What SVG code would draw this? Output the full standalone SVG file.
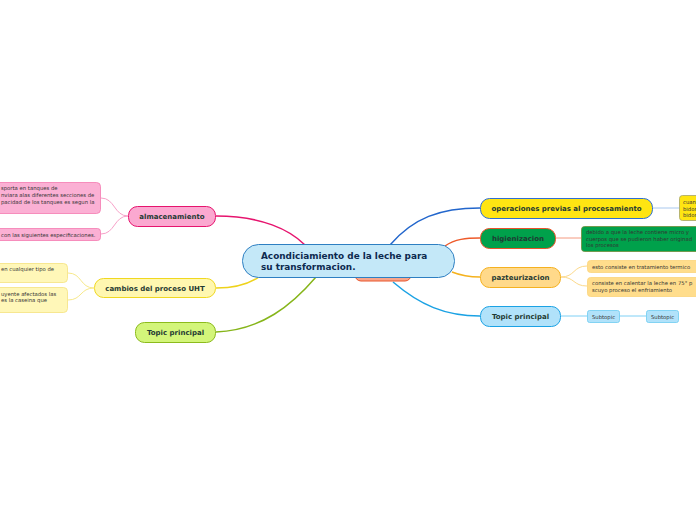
<svg xmlns="http://www.w3.org/2000/svg" width="696" height="520" viewBox="0 0 696 520">
<style>
text{font-family:"DejaVu Sans",Verdana,sans-serif;}
.main{font-size:8.9px;font-weight:bold;fill:#0d2a4f;}
.t{font-size:7px;font-weight:bold;fill:#1f3a33;}
.s{font-size:5.3px;fill:#333;}
.c{fill:none;stroke-width:1.5;}
.cc{fill:none;stroke-width:1;}
</style>
<rect width="696" height="520" fill="#fff"/>
<g id="connectors">
<path class="c" stroke="#e6146e" d="M216,216 C262,216 290,230 305,245"/>
<path class="c" stroke="#2266cc" d="M390,245 C413,218 440,208 480,208"/>
<path class="c" stroke="#ee5a2a" d="M445,246 C455,239 466,238 480,238"/>
<path class="c" stroke="#f5b21e" d="M452,272 C462,276 470,277 480,277"/>
<path class="c" stroke="#1ba2e4" d="M393,282 C420,305 445,316 480,316"/>
<path class="c" stroke="#eed21a" d="M216,288 C236,288 250,283 259,277"/>
<path class="c" stroke="#86b51a" d="M216,332 C262,330 292,305 316,277"/>
<path class="cc" stroke="#a9c8ee" stroke-width="1.5" d="M653,208 L679,208"/>
<path class="cc" stroke="#f49a80" d="M556,238 L581,238"/>
<path class="cc" stroke="#fcd98a" d="M561,277 C575,277 573,266 587,266 M561,277 C575,277 573,286 587,286"/>
<path class="cc" stroke="#7fd0f5" d="M561,316 L587,316 M619,316 L646,316"/>
<path class="cc" stroke="#f7a0c8" d="M128,216 C114,216 115,198 101,198 M128,216 C114,216 115,234 101,234"/>
<path class="cc" stroke="#f7e98a" d="M94,288 C80,288 82,273 68,273 M94,288 C80,288 82,300 68,300"/>
</g>
<g id="hidden-node">
<rect x="355" y="262" width="56" height="19" rx="6" fill="#f9a58a" stroke="#e8542a" stroke-width="1"/>
</g>
<g id="central">
<rect x="242.5" y="244.5" width="212" height="33" rx="16" fill="#c4e8f8" stroke="#2e7fc2" stroke-width="1"/>
<text class="main" x="261" y="259">Acondiciamiento de la leche para</text>
<text class="main" x="261" y="270">su transformacion.</text>
</g>
<g id="operaciones">
<rect x="480.5" y="198.5" width="172" height="20" rx="9" fill="#ffe512" stroke="#2f6fd0" stroke-width="1"/>
<text class="t" x="566.5" y="211" text-anchor="middle">operaciones previas al procesamiento</text>
</g>
<g id="operaciones-sub">
<rect x="679.5" y="195.5" width="30" height="25" rx="3" fill="#ffe512" stroke="#a5a36a" stroke-width="0.8"/>
<text class="s" x="683" y="204">cuan</text>
<text class="s" x="683" y="210.5">bidor</text>
<text class="s" x="683" y="217">bidor</text>
</g>
<g id="higienizacion">
<rect x="480.5" y="228.5" width="75" height="20" rx="9" fill="#00a14b" stroke="#e8542a" stroke-width="1"/>
<text class="t" x="518" y="241" text-anchor="middle">higienizacion</text>
</g>
<g id="higienizacion-sub">
<rect x="581.5" y="226.5" width="130" height="25" rx="3" fill="#00a14b" stroke="#6f8d3a" stroke-width="0.8"/>
<text class="s" x="586" y="234">debido a que la leche contiene micro y</text>
<text class="s" x="586" y="240.5">cuerpos que se pudieron haber originad</text>
<text class="s" x="586" y="247">los procesos</text>
</g>
<g id="pazteurizacion">
<rect x="480.5" y="267.5" width="80" height="20" rx="9" fill="#ffd98a" stroke="#f5b120" stroke-width="1"/>
<text class="t" x="520.5" y="280" text-anchor="middle">pazteurizacion</text>
</g>
<g id="paz-sub1">
<rect x="587.5" y="260.5" width="120" height="12" rx="3" fill="#ffdd8c" stroke="#fbd37a" stroke-width="0.8"/>
<text class="s" x="592" y="268.5">esto consiste en tratamiento termico</text>
</g>
<g id="paz-sub2">
<rect x="587.5" y="277.5" width="120" height="19" rx="3" fill="#ffdd8c" stroke="#fbd37a" stroke-width="0.8"/>
<text class="s" x="592" y="285">consiste en calentar la leche en 75° p</text>
<text class="s" x="592" y="291.5">scuyo proceso el enfriamiento</text>
</g>
<g id="topic-right">
<rect x="480.5" y="306.5" width="80" height="20" rx="9" fill="#b1e2fa" stroke="#1ba2e4" stroke-width="1"/>
<text class="t" x="520.5" y="319" text-anchor="middle">Topic principal</text>
</g>
<g id="subtopic1">
<rect x="587.5" y="310.5" width="32" height="12" rx="2" fill="#b1e2fa" stroke="#6ccbf0" stroke-width="0.8"/>
<text class="s" x="603.5" y="318.5" text-anchor="middle">Subtopic</text>
</g>
<g id="subtopic2">
<rect x="646.5" y="310.5" width="32" height="12" rx="2" fill="#b1e2fa" stroke="#6ccbf0" stroke-width="0.8"/>
<text class="s" x="662.5" y="318.5" text-anchor="middle">Subtopic</text>
</g>
<g id="almacenamiento">
<rect x="128.5" y="206.5" width="87" height="20" rx="9" fill="#fba8d0" stroke="#e6146e" stroke-width="1"/>
<text class="t" x="172" y="219" text-anchor="middle">almacenamiento</text>
</g>
<g id="alm-sub1">
<rect x="-20.5" y="182.5" width="121" height="31" rx="4" fill="#fbb0d4" stroke="#f47ab0" stroke-width="0.8"/>
<text class="s" x="1" y="190">sporta en tanques de</text>
<text class="s" x="1" y="197">nviara alas diferentes secciones de</text>
<text class="s" x="1" y="203.5">pacidad de los tanques es segun la</text>
</g>
<g id="alm-sub2">
<rect x="-20.5" y="228.5" width="121" height="12" rx="3" fill="#fbb0d4" stroke="#f47ab0" stroke-width="0.8"/>
<text class="s" x="1" y="236.5">con las siguientes especificaciones.</text>
</g>
<g id="cambios">
<rect x="94.5" y="278.5" width="121" height="19" rx="9" fill="#fff7b0" stroke="#f0d820" stroke-width="1"/>
<text class="t" x="155" y="291" text-anchor="middle">cambios del proceso UHT</text>
</g>
<g id="cambios-sub1">
<rect x="-20.5" y="263.5" width="88" height="19" rx="4" fill="#fff7b8" stroke="#f5e27d" stroke-width="0.8"/>
<text class="s" x="1" y="271">en cualquier tipo de</text>
</g>
<g id="cambios-sub2">
<rect x="-20.5" y="287.5" width="88" height="25" rx="4" fill="#fff7b8" stroke="#f5e27d" stroke-width="0.8"/>
<text class="s" x="1" y="295.5">uyente afectados las</text>
<text class="s" x="1" y="302">es la caseina que</text>
</g>
<g id="topic-left">
<rect x="135.5" y="322.5" width="80" height="20" rx="9" fill="#d3f57a" stroke="#8cbb1c" stroke-width="1"/>
<text class="t" x="175.5" y="335" text-anchor="middle">Topic principal</text>
</g>
</svg>
